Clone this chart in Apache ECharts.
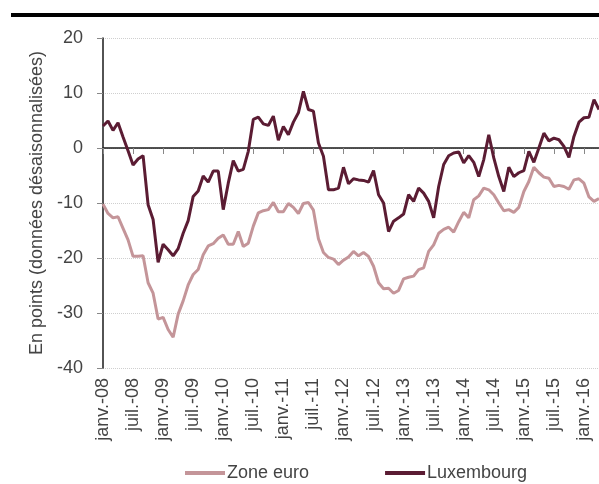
<!DOCTYPE html>
<html>
<head>
<meta charset="utf-8">
<script src="https://cdn.jsdelivr.net/npm/echarts@6/dist/echarts.min.js"></script>
<style>
  html, body { margin: 0; padding: 0; background: #fff; }
  #chart { width: 599px; height: 484px; }
</style>
</head>
<body>
<div id="chart"></div>
<script>
// mois janv.-08 -> avr.-16
const monthNames = ['janv.', 'févr.', 'mars', 'avr.', 'mai', 'juin', 'juil.', 'août', 'sept.', 'oct.', 'nov.', 'déc.'];
const years = ['08', '09', '10', '11', '12', '13', '14', '15', '16'];
const lastMonthCount = 4; // 2016 : janv. à avr.

const categories = [];
years.forEach((y, k) => {
  const n = k === years.length - 1 ? lastMonthCount : 12;
  for (let m = 0; m < n; m++) categories.push(monthNames[m] + '-' + y);
});

const zoneEuro = [
  -10.2, -11.9, -12.7, -12.5, -14.6, -16.7, -19.7, -19.7, -19.6, -24.5,
  -26.4, -31.1, -30.8, -33.0, -34.4, -30.2, -27.8, -24.9, -23.0, -22.1,
  -19.4, -17.8, -17.4, -16.4, -15.8, -17.5, -17.5, -15.2, -17.9, -17.3,
  -14.2, -11.8, -11.4, -11.2, -9.9, -11.6, -11.6, -10.1, -10.8, -11.9,
  -10.1, -9.9, -11.3, -16.5, -19.0, -19.9, -20.2, -21.2, -20.4, -19.8,
  -18.8, -19.6, -19.0, -19.7, -21.5, -24.5, -25.6, -25.5, -26.4, -25.9,
  -23.8, -23.5, -23.3, -22.1, -21.8, -18.8, -17.6, -15.5, -14.8, -14.4,
  -15.3, -13.4, -11.7, -12.7, -9.4, -8.7, -7.3, -7.6, -8.5, -10.0,
  -11.4, -11.2, -11.7, -10.8, -7.9, -6.1, -3.5, -4.5, -5.3, -5.5,
  -7.0, -6.8, -7.0, -7.5, -5.8, -5.6, -6.4, -8.9, -9.7, -9.2
];

const luxembourg = [
  4.0, 4.9, 3.2, 4.6, 2.0, -0.5, -3.1, -2.0, -1.4, -10.3,
  -13.0, -20.8, -17.5, -18.5, -19.6, -18.3, -15.5, -13.2, -8.8, -7.8,
  -5.1, -6.2, -4.2, -4.2, -11.2, -6.4, -2.3, -4.2, -3.9, -0.6,
  5.2, 5.6, 4.4, 4.1, 5.8, 1.4, 3.9, 2.4, 4.7, 6.4,
  10.3, 7.0, 6.7, 0.9, -1.5, -7.6, -7.6, -7.3, -3.5, -6.5,
  -5.6, -5.8, -5.9, -6.2, -4.1, -8.5, -10.0, -15.2, -13.3, -12.7,
  -12.0, -8.5, -9.7, -7.3, -8.2, -9.7, -12.7, -7.0, -3.0, -1.4,
  -0.9, -0.7, -2.7, -1.4, -2.6, -5.2, -2.1, 2.4, -1.8, -5.2,
  -7.9, -3.5, -5.2, -4.5, -4.1, -0.6, -2.6, 0.0, 2.7, 1.3,
  1.8, 1.5, 0.3, -1.7, 2.1, 4.7, 5.5, 5.6, 8.8, 7.0
];

const FONT = "'Liberation Sans', Arial, sans-serif";
const TXT = '#444';

const chart = echarts.init(document.getElementById('chart'), null, { renderer: 'canvas' });

chart.setOption({
  animation: false,
  textStyle: { fontFamily: FONT },
  graphic: [
    // barre noire en haut
    { type: 'rect', shape: { x: 11, y: 13, width: 600, height: 4 }, style: { fill: '#000' } }
  ],
  grid: { left: 103, top: 38, right: 0, bottom: 116, containLabel: false },
  legend: {
    left: 180,
    top: 459,
    icon: 'rect',
    itemWidth: 40,
    itemHeight: 4,
    itemGap: 76,
    textStyle: { fontFamily: FONT, fontSize: 18, color: TXT, padding: [0, 0, 0, -3] },
    data: ['Zone euro', 'Luxembourg']
  },
  xAxis: [
    {
      // libellés en bas
      type: 'category',
      data: categories,
      boundaryGap: false,
      axisLine: { show: false, onZero: false },
      axisTick: { show: false },
      splitLine: { show: false },
      axisLabel: {
        interval: 5,
        rotate: 90,
        margin: 10,
        fontSize: 18,
        color: TXT,
        fontFamily: FONT
      }
    },
    {
      // axe sur le zéro
      type: 'category',
      data: categories,
      boundaryGap: false,
      position: 'bottom',
      axisLine: { show: true, onZero: true, lineStyle: { color: '#1a1a1a', width: 1.5 } },
      axisTick: { show: true, interval: 5, length: 6, inside: false, lineStyle: { color: '#888', width: 1 } },
      axisLabel: { show: false },
      splitLine: { show: false }
    }
  ],
  yAxis: {
    type: 'value',
    min: -40,
    max: 20,
    interval: 10,
    name: 'En points (données désaisonnalisées)',
    nameLocation: 'middle',
    nameGap: 56,
    nameRotate: 90,
    nameTextStyle: { fontSize: 18, color: TXT, fontFamily: FONT },
    axisLine: { show: true, lineStyle: { color: '#1a1a1a', width: 1.5 } },
    axisTick: { show: true, length: 6, lineStyle: { color: '#888' } },
    axisLabel: { fontSize: 18, color: TXT, margin: 20, fontFamily: FONT },
    splitLine: { show: true, lineStyle: { color: '#cfcfcf', type: 'dotted', width: 1 } }
  },
  series: [
    {
      name: 'Zone euro',
      type: 'line',
      xAxisIndex: 0,
      data: zoneEuro,
      showSymbol: false,
      lineStyle: { color: '#c49599', width: 3 },
      itemStyle: { color: '#c49599' }
    },
    {
      name: 'Luxembourg',
      type: 'line',
      xAxisIndex: 0,
      data: luxembourg,
      showSymbol: false,
      lineStyle: { color: '#5b1c33', width: 3 },
      itemStyle: { color: '#5b1c33' }
    }
  ]
});
</script>
</body>
</html>
